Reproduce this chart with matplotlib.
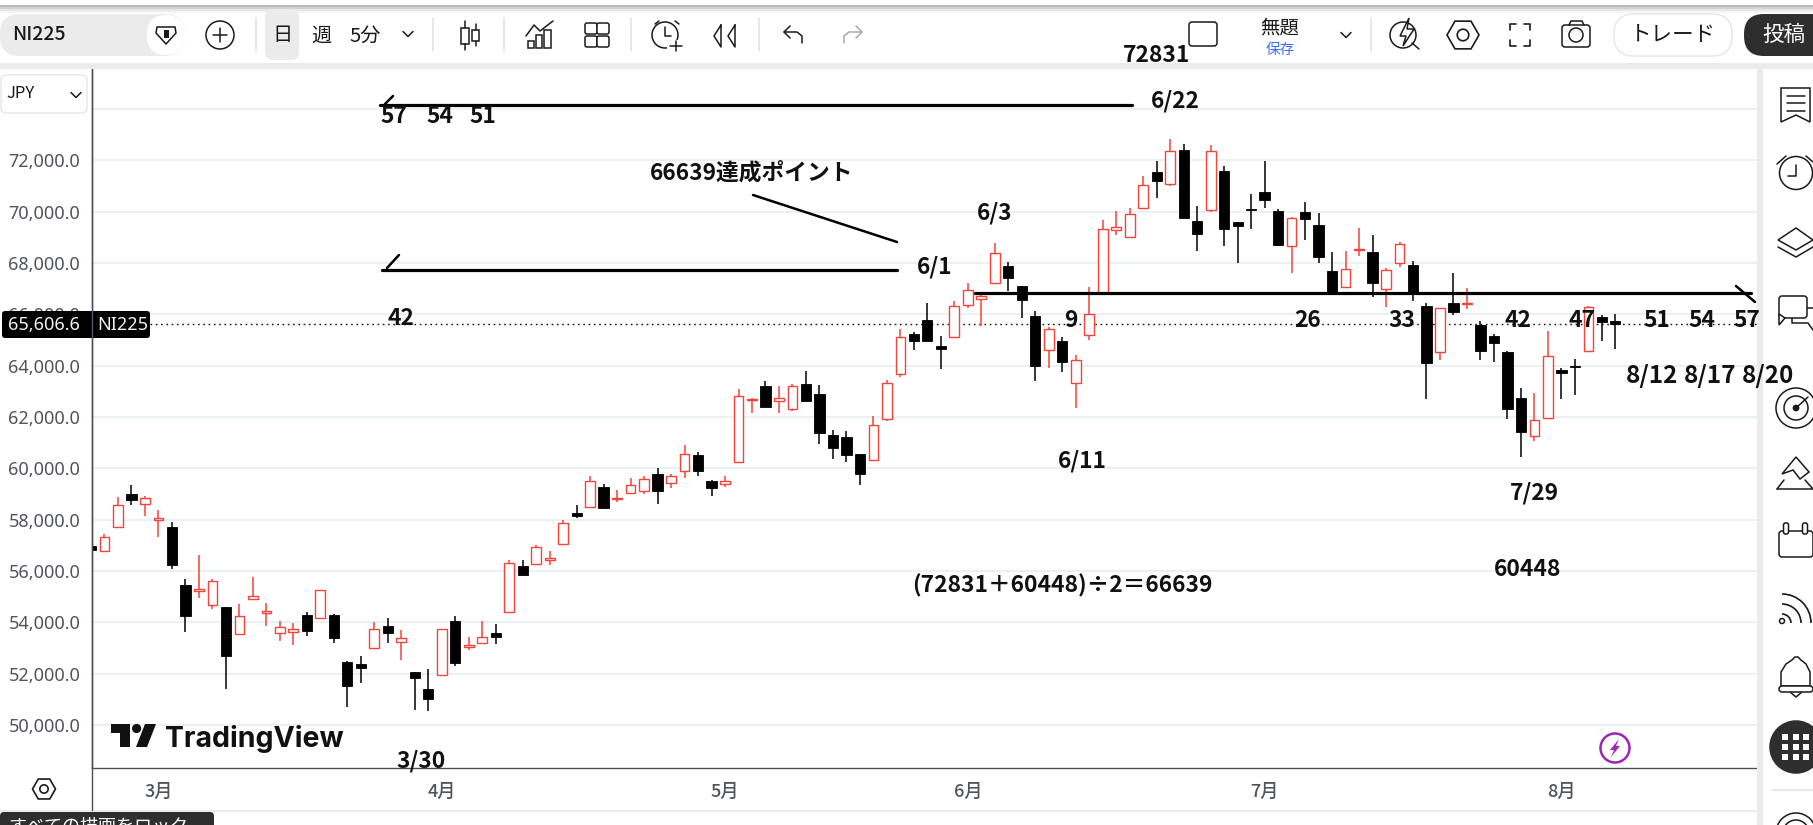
import matplotlib
matplotlib.use('Agg')
import matplotlib.pyplot as plt
from matplotlib.patches import Rectangle, Circle, FancyBboxPatch, Polygon, RegularPolygon, Arc

plt.rcParams['font.family'] = ['Noto Sans CJK JP', 'DejaVu Sans']

W, H = 1813, 825

# daily candles, one value per bar
opens = [56980, 56760, 57710, 59010, 58590, 57980, 57720, 55460, 55210, 54670, 54600, 53540, 54900, 54380, 53580, 53610,
         54290, 54150, 54290, 52460, 52380, 52990, 53860, 53220, 52070, 51400, 51940, 54040, 53030, 53190, 53590, 54390,
         56200, 56270, 56410, 57070, 58270, 58480, 59270, 58820, 59030, 59100, 59780, 59420, 59880, 60520, 59490, 59380,
         60230, 62650, 63210, 62610, 62300, 63290, 62900, 61300, 61220, 60560, 60340, 61910, 63660, 65220, 65770, 64750,
         65130, 66350, 66610, 67230, 67880, 67100, 65930, 64600, 64960, 63310, 65180, 66820, 69270, 69000, 70150, 71540,
         71060, 72400, 69620, 70060, 71580, 69600, 70100, 70770, 70020, 68650, 69990, 69480, 67690, 67050, 68510, 68430,
         66970, 67990, 67920, 66320, 64520, 66440, 66400, 65580, 65160, 64530, 62740, 61250, 61950, 63830, 63990, 64560,
         65900, 65730]
highs = [56980, 57440, 58880, 59360, 58930, 58390, 57900, 55690, 56630, 55690, 54600, 54720, 55770, 54760, 54060, 53980,
         54410, 55250, 54330, 52500, 52690, 54020, 54170, 53710, 52070, 52180, 53730, 54250, 53430, 54060, 53940, 56440,
         56440, 57010, 56790, 58000, 58580, 59710, 59390, 59140, 59620, 59690, 60000, 59770, 60910, 60640, 59530, 59690,
         63090, 62730, 63400, 63210, 63270, 63790, 63250, 61490, 61450, 60560, 62040, 63440, 65430, 65310, 66440, 65140,
         66520, 67220, 66820, 68780, 68040, 67100, 66130, 65510, 65120, 64420, 67060, 69670, 70020, 70140, 71390, 71970,
         72830, 72630, 70220, 72600, 71760, 69600, 70690, 71970, 70100, 69790, 70380, 69950, 68430, 68470, 69360, 69090,
         67800, 68820, 68080, 66440, 66230, 67610, 67010, 65740, 65230, 64570, 63130, 62940, 65350, 63910, 64260, 66310,
         65970, 66010]
lows = [56800, 56760, 57710, 58580, 58150, 57310, 56080, 53640, 54930, 54520, 51420, 53540, 54900, 53840, 53290, 53120,
        53470, 54150, 53200, 50720, 51640, 52990, 53210, 52540, 50600, 50560, 51940, 52280, 52930, 53190, 53170, 54390,
        55790, 56270, 56250, 57030, 58050, 58440, 58470, 58700, 59030, 59010, 58620, 59250, 59640, 59710, 58940, 59290,
        60230, 62170, 62400, 62170, 62250, 62640, 60960, 60380, 60260, 59330, 60300, 61860, 63570, 64610, 64970, 63880,
        65130, 66260, 65560, 67230, 66920, 65870, 63420, 63920, 63770, 62360, 65010, 66820, 69100, 69000, 70120, 70540,
        71010, 69770, 68480, 70000, 68660, 68000, 69340, 70140, 68660, 67620, 68900, 68000, 66820, 67050, 68280, 66690,
        66300, 67860, 66520, 62710, 64230, 65970, 66210, 64220, 64140, 61920, 60440, 61070, 61950, 62700, 62860, 64560,
        64960, 64650]
closes = [56800, 57320, 58570, 58750, 58840, 58060, 56240, 54230, 55290, 55600, 52700, 54240, 55020, 54430, 53810, 53730,
          53680, 55250, 53370, 51500, 52240, 53730, 53600, 53380, 51850, 51030, 53730, 52430, 53110, 53420, 53410, 56310,
          55860, 56930, 56500, 57870, 58130, 59500, 58470, 58840, 59340, 59570, 59130, 59690, 60550, 59910, 59250, 59490,
          62810, 62690, 62400, 62730, 63190, 62640, 61390, 60810, 60530, 59790, 61680, 63310, 65130, 64970, 64970, 64660,
          66310, 66930, 66730, 68380, 67430, 66560, 63990, 65420, 64140, 64210, 66000, 69310, 69390, 69900, 71020, 71210,
          72350, 69770, 69130, 72350, 69340, 69440, 70060, 70450, 68700, 69740, 69710, 68250, 66820, 67750, 68540, 67220,
          67710, 68730, 66820, 64120, 66230, 66100, 66440, 64580, 64900, 62320, 61430, 61870, 64360, 63730, 63960, 66270,
          65690, 65610]

last_price = 65606.6
price_ticks = [50000, 52000, 54000, 56000, 58000, 60000, 62000, 64000, 66000, 68000, 70000, 72000, 74000]
price_labels = ['50,000.0', '52,000.0', '54,000.0', '56,000.0', '58,000.0', '60,000.0', '62,000.0', '64,000.0',
                '66,000.0', '68,000.0', '70,000.0', '72,000.0', '']
month_pos = [5, 26, 47, 65, 87, 109]
month_labels = ['3月', '4月', '5月', '6月', '7月', '8月']

RED = '#f4433a'
INK = '#111111'
TXT = '#50535e'

fig = plt.figure(figsize=(W / 100, H / 100), dpi=100)

# chart
ax = fig.add_axes([92 / W, 1 - 768 / H, (1757 - 92) / W, (768 - 69) / H])
ax.set_xlim(0.074, 123.5)
ax.set_ylim(48325, 75555)
ax.set_yticks(price_ticks)
ax.set_yticklabels(price_labels, family='Noto Sans', fontsize=13, color=TXT)
ax.set_xticks(month_pos)
ax.set_xticklabels(month_labels, fontsize=13, color=TXT, fontweight='medium')
ax.tick_params(axis='y', length=0, pad=8.5)
ax.tick_params(axis='x', length=0, pad=11)
ax.grid(axis='y', color='#e4edf3', lw=1.1)
ax.set_axisbelow(True)
for s in ['top', 'right']:
    ax.spines[s].set_visible(False)
for s in ['left', 'bottom']:
    ax.spines[s].set_color('#4a4d5a')
    ax.spines[s].set_linewidth(1.0)
ax.axhline(last_price, color='#111111', lw=1.0, ls=(0, (1.2, 2.6)), zorder=1.5)

for i in range(len(opens)):
    up = closes[i] >= opens[i]
    col = RED if up else '#000000'
    lo, hi = min(opens[i], closes[i]), max(opens[i], closes[i])
    ax.vlines(i, lows[i], highs[i], color=col, lw=1.1, zorder=2)
    if up:
        ax.bar(i, hi - lo, bottom=lo, width=0.72, facecolor='white', edgecolor=col, lw=1.0, zorder=3)
    else:
        ax.bar(i, hi - lo, bottom=lo, width=0.76, facecolor=col, edgecolor=col, lw=0.6, zorder=3)

# overlay in screen pixels: toolbars and hand drawn notes
ui = fig.add_axes([0, 0, 1, 1], facecolor='none')
ui.set_xlim(0, W)
ui.set_ylim(H, 0)
ui.axis('off')


def rect(x0, y0, x1, y1, c, z=1):
    ui.add_patch(Rectangle((x0, y0), x1 - x0, y1 - y0, fc=c, ec='none', zorder=z))


def pill(x0, y0, x1, y1, r, fc, ec='none', lw=1.0, z=2):
    ui.add_patch(FancyBboxPatch((x0 + r, y0 + r), x1 - x0 - 2 * r, y1 - y0 - 2 * r,
                                boxstyle='round,pad=%g,rounding_size=%g' % (r, r), fc=fc, ec=ec, lw=lw, zorder=z))


def line(xs, ys, c='#1a1a1a', lw=1.1, z=4):
    ui.plot(xs, ys, color=c, lw=lw, zorder=z, solid_capstyle='round', solid_joinstyle='round')


def outline(x0, y0, x1, y1, lw=1.1, c='#1a1a1a', z=4):
    ui.add_patch(Rectangle((x0, y0), x1 - x0, y1 - y0, fc='white', ec=c, lw=lw, zorder=z))


def circ(x, y, r, c='#1a1a1a', lw=1.1, fc='none', z=4):
    ui.add_patch(Circle((x, y), r, fc=fc, ec=c, lw=lw, zorder=z))


def hexa(x, y, r, lw=1.2, z=4):
    ui.add_patch(RegularPolygon((x, y), 6, radius=r, orientation=0.5236, fc='white', ec='#1a1a1a', lw=lw, zorder=z))
    circ(x, y, r * 0.36, lw=lw, z=z + 1)


def label(x, y, s, size=12, c='#1a1a1a', weight='normal', ha='center', z=5, **kw):
    ui.text(x, y, s, fontsize=size, color=c, fontweight=weight, ha=ha, va='center', zorder=z, **kw)


def chevron(x, y, c='#1a1a1a'):
    line([x - 5, x, x + 5], [y - 2.5, y + 2.5, y - 2.5], c=c)


def note(x, y, s, size=16.4):
    ui.text(x, y + 1.5, s, fontsize=size, color=INK, fontweight='bold', ha='center', va='center', zorder=8)


# frame bands
rect(0, 5, W, 7, '#b8b8b8')
rect(0, 7, W, 9, '#d2d2d2')
rect(0, 9, W, 11, '#e6e6e6')
rect(0, 11, W, 13, '#f5f5f5')
rect(0, 63, W, 69, '#ebebeb')
rect(1757, 63, 1763, 825, '#ebebeb')
rect(0, 810, 1757, 812, '#ebebeb')
line([92.4, 92.4], [69, 810], c='#4a4d5a', lw=1.0, z=3)

# left toolbar
pill(0, 14, 185, 56, 20, '#ebebeb')
pill(147, 15, 185, 55, 19, 'white')
label(12, 35, 'NI225', size=14, weight='medium', ha='left')
ui.add_patch(Polygon([(157, 27), (175, 27), (176, 33), (166, 44), (156, 33)], fc='white', ec='#1a1a1a', lw=1.1, zorder=4))
rect(163.5, 30, 168.5, 38, '#1a1a1a', z=5)
circ(220, 35, 14)
line([213, 227], [35, 35])
line([220, 220], [28, 42])
for sx in [256, 433, 504, 631, 759, 1371]:
    line([sx, sx], [18, 51], c='#e0e0e0', z=3)
pill(265, 9, 299, 60, 8, '#ebebeb')
label(282, 36, '日', size=14.5)
label(321, 36, '週', size=14.5)
label(365, 36, '5分', size=14.5)
chevron(408, 34)

# candle icon
outline(461, 28, 469, 44)
line([465, 465], [21, 28])
line([465, 465], [44, 50])
outline(472, 30, 479, 41)
line([475.5, 475.5], [24, 30])
line([475.5, 475.5], [41, 46])
# chart icon
outline(528, 41, 534, 48)
outline(536, 35, 542, 48)
outline(544, 30, 551, 48)
line([526, 534, 540, 553], [36, 25, 31, 21])
# four squares
for qx in [585, 597]:
    for qy in [23, 36]:
        ui.add_patch(FancyBboxPatch((qx + 2, qy + 2), 8, 7, boxstyle='round,pad=2,rounding_size=2', fc='white',
                                    ec='#1a1a1a', lw=1.1, zorder=4))
# alarm
circ(665, 35, 13)
line([665, 665, 671], [27, 36, 36])
line([655, 659], [24, 21])
line([675, 679], [21, 24])
rect(667, 40, 684, 52, 'white', z=4.5)
line([676, 676], [41, 51], z=5)
line([670, 682], [46, 46], z=5)
# rewind
line([721, 714, 721, 721], [25, 36, 47, 25])
line([735, 728, 735, 735], [25, 36, 47, 25])
# undo, redo
line([790, 784, 790], [26, 32, 38])
line([784, 797, 802, 802], [32, 32, 36, 43])
line([856, 862, 856], [26, 32, 38], c='#a8a8a8')
line([862, 849, 844, 844], [32, 32, 36, 43], c='#a8a8a8')

# right toolbar
pill(1189, 22, 1217, 46, 3, 'white', ec='#1a1a1a', lw=1.1, z=3)
label(1280, 28, '無題', size=14)
label(1280, 50, '保存', size=10.5, c='#3d6cf5')
chevron(1346, 35)
# lightning search
circ(1403, 35, 13)
ui.add_patch(Polygon([(1409, 18), (1400, 36), (1406, 36), (1403, 46), (1414, 29), (1407, 29)], fc='white', ec='#1a1a1a',
                     lw=1.1, zorder=5))
line([1412, 1419], [43, 49])
hexa(1463, 35, 16)
# fullscreen corners
for cx, cy, dx, dy in [(1510, 24, 1, 1), (1530, 24, -1, 1), (1510, 46, 1, -1), (1530, 46, -1, -1)]:
    line([cx, cx, cx + 6 * dx], [cy + 6 * dy, cy, cy], lw=1.2)
# camera
ui.add_patch(FancyBboxPatch((1564, 27), 24, 18, boxstyle='round,pad=2,rounding_size=3', fc='white', ec='#1a1a1a', lw=1.1,
                            zorder=4))
line([1569, 1571, 1582, 1584], [25, 21, 21, 25], z=4)
circ(1576, 35, 7, z=5)
pill(1614, 14, 1732, 56, 20, 'white', ec='#e6e6e6')
label(1673, 35, 'トレード', size=15.5)
pill(1744, 14, 1840, 56, 20, '#2e2e2e')
label(1784, 35, '投稿', size=15.5, c='white')

# currency button and pane details
pill(1, 75, 87, 113, 5, 'white', ec='#e6e6e6')
label(6, 94, 'JPY', size=12, ha='left')
chevron(76, 95)
hexa(44, 789, 11.5)

# last price tag
pill(2, 311, 150, 338, 3, '#000000', z=6)
line([92.4, 92.4], [311, 338], c='#55586a', lw=1.0, z=6.5)
label(44, 324.5, '65,606.6', size=13, c='#f2f2f2', weight='medium', z=7, family='Noto Sans')
label(122.5, 324.5, 'NI225', size=13, c='#f2f2f2', weight='medium', z=7, family='Noto Sans')

# TradingView mark
ui.add_patch(Polygon([(111, 724), (129.5, 724), (129.5, 747), (120, 747), (120, 733), (111, 733)], fc='#111111', ec='none',
                     zorder=3))
ui.add_patch(Circle((136.6, 728.5), 4.6, fc='#111111', ec='none', zorder=3))
ui.add_patch(Polygon([(145, 724), (156, 724), (147, 747), (136, 747)], fc='#111111', ec='none', zorder=3))
ui.text(165, 747, 'TradingView', family='Inter', fontsize=20.5, fontweight='bold', color='#111111', ha='left',
        va='baseline', zorder=3)

# bolt badge
circ(1615, 748, 14.5, c='#9c27b0', lw=1.8, fc='white')
ui.add_patch(Polygon([(1619, 739), (1610, 750), (1614, 750), (1611, 757), (1620, 746), (1616, 746)], fc='#9c27b0',
                     ec='none', zorder=5))

# right panel icons
x = 1796
# list bookmark
ui.add_patch(Polygon([(1781, 88), (1810, 88), (1810, 122), (1796, 115), (1781, 122)], fc='white', ec='#1a1a1a', lw=1.1,
                     zorder=4))
for ly in [96, 103, 111]:
    line([1787, 1805], [ly, ly])
# alarm clock
circ(x, 173, 16.5)
line([x, x, 1788], [165, 176, 176])
line([1777, 1786], [164, 156])
line([1806, 1813], [156, 162])
# layers
ui.add_patch(Polygon([(1778, 240), (x, 228), (1813, 240), (x, 250)], fc='white', ec='#1a1a1a', lw=1.1, zorder=5))
line([1778, x, 1813], [247, 257, 247])
# chat bubbles
line([1807, 1813], [308, 308])
line([1792, 1792, 1808, 1813], [318, 323, 323, 330])
ui.add_patch(FancyBboxPatch((1779, 296), 28, 22, boxstyle='round,pad=0,rounding_size=3', fc='white', ec='#1a1a1a', lw=1.1,
                            zorder=5))
ui.add_patch(Polygon([(1779, 314), (1779, 325), (1785, 318)], fc='white', ec='#1a1a1a', lw=1.1, zorder=6))
# target
circ(x, 408, 20)
circ(x, 408, 12)
circ(x, 408, 2.6, fc='#1a1a1a')
line([x, 1808], [408, 397])
# hills
line([1777, 1813], [489, 489])
line([1777, 1784], [489, 480])
line([1805, 1813], [480, 489])
ui.add_patch(Polygon([(x, 457), (1782, 474), (1793, 470), (1800, 479), (1809, 472)], fc='white', ec='#1a1a1a', lw=1.1,
                     zorder=5))
# calendar
ui.add_patch(FancyBboxPatch((1779, 531), 34, 26, boxstyle='round,pad=0,rounding_size=3', fc='white', ec='#1a1a1a', lw=1.1,
                            zorder=4))
for px in [1786, 1805]:
    pill(px - 2.5, 523, px + 2.5, 534, 2, 'white', ec='#1a1a1a', lw=1.1, z=5)
# signal
circ(1782, 621, 2.5, z=5)
for r in [9, 19, 29]:
    ui.add_patch(Arc((1782, 623), r * 2, r * 2, theta1=270, theta2=360, ec='#1a1a1a', lw=1.2, zorder=5))
# bell
ui.add_patch(Polygon([(1781, 686), (1781, 672), (1786, 664), (1792, 660), (1795, 657), (1798, 657), (1801, 660), (1806, 664),
                      (1810, 672), (1810, 686)], fc='white', ec='#1a1a1a', lw=1.1, zorder=4))
pill(1779, 686, 1813, 692, 3, 'white', ec='#1a1a1a', lw=1.1, z=5)
line([1790, 1796, 1802], [692, 697, 692])
# apps button
circ(x, 747, 26, c='#2e2e2e', fc='#2e2e2e', z=4)
for gx in [1785, 1796, 1806]:
    for gy in [737, 747, 757]:
        rect(gx - 3, gy - 3, gx + 3, gy + 3, 'white', z=5)
rect(1772, 789, 1813, 791, '#e8e8e8')
circ(x, 833, 20)
circ(x, 833, 13)

# tooltip clipped by the window edge
pill(0, 812, 214, 840, 4, '#2e2e2e')
ui.text(8, 827, 'すべての描画をロック', fontsize=13, color='white', ha='left', va='center', zorder=5, clip_on=True)

# hand drawn notes
line([380, 1132], [105, 105], c='#000000', lw=2.3, z=7)
line([385, 393], [104, 96], c='#000000', lw=1.8, z=7)
line([382, 897], [270, 270], c='#000000', lw=2.3, z=7)
line([387, 399], [268, 255], c='#000000', lw=1.8, z=7)
line([975, 1751], [293.3, 293.3], c='#000000', lw=2.3, z=7)
line([1736, 1755], [286, 302], c='#000000', lw=1.8, z=7)
line([753, 897], [195, 242], c='#000000', lw=1.8, z=7)

note(1157, 54, '72831')
note(1175, 100, '6/22')
note(394, 115, '57')
note(440, 115, '54')
note(483, 115, '51')
note(752, 172, '66639達成ポイント')
note(995, 212, '6/3')
note(935, 265, '6/1')
note(1071, 319, '9')
note(401, 317, '42')
note(1308, 319, '26')
note(1402, 319, '33')
note(1518, 319, '42')
note(1582, 319, '47')
note(1657, 319, '51')
note(1702, 319, '54')
note(1747, 319, '57')
note(1652, 375, '8/12', size=17.5)
note(1710, 375, '8/17', size=17.5)
note(1768, 375, '8/20', size=17.5)
note(1082, 460, '6/11')
note(1534, 492, '7/29')
note(1528, 568, '60448')
note(1062, 584, '(72831＋60448)÷2＝66639')
note(421, 760, '3/30')

fig.savefig('out.png', dpi=100)
